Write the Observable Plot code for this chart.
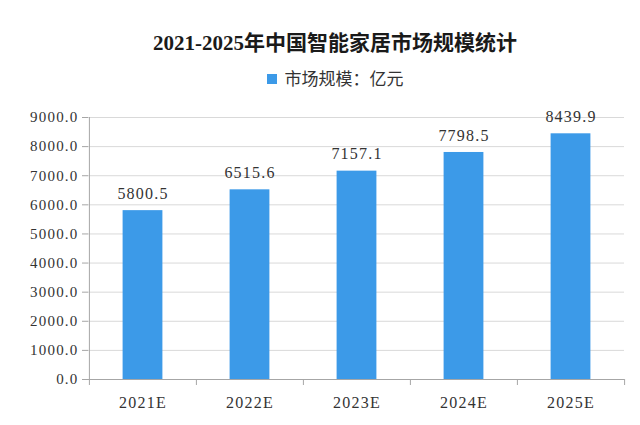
<!DOCTYPE html>
<html><head><meta charset="utf-8">
<script src="https://cdn.jsdelivr.net/npm/d3@7"></script>
<script src="https://cdn.jsdelivr.net/npm/@observablehq/plot@0.6"></script>
<style>
html,body{margin:0;padding:0;background:#fff;}
body{width:640px;height:425px;overflow:hidden;}
#head{height:95px;position:relative;}
#title{position:absolute;left:30px;right:0;top:30px;text-align:center;font-family:"Liberation Serif","Noto Sans CJK SC",serif;font-weight:bold;font-size:21px;line-height:26px;color:#1a1a1a;}
#legend{position:absolute;left:30px;right:0;top:67px;text-align:center;font-family:"Noto Sans CJK SC",sans-serif;font-size:17px;line-height:22px;color:#333;}
#legend .sw{display:inline-block;width:10px;height:10px;background:#3c9ae8;margin-right:8px;vertical-align:1px;}
#chart svg text{letter-spacing:1.2px;}
</style></head>
<body>
<div id="head">
  <div id="title">2021-2025年中国智能家居市场规模统计</div>
  <div id="legend"><span class="sw"></span>市场规模：亿元</div>
</div>
<div id="chart"></div>
<script>
const years = ["2021E", "2022E", "2023E", "2024E", "2025E"];
const values = [5800.5, 6515.6, 7157.1, 7798.5, 8439.9];
const yTicks = [0, 1000, 2000, 3000, 4000, 5000, 6000, 7000, 8000, 9000];

const data = years.map((year, i) => ({year, value: values[i]}));

const W = 640, H = 330, ML = 88, MR = 16, MT = 22, MB = 46;
const bw = (W - ML - MR) / years.length;
const barW = 40;
const inset = (bw - barW) / 2;
const blue = "#3c9ae8";

const chart = Plot.plot({
  width: W, height: H,
  marginLeft: ML, marginRight: MR, marginTop: MT, marginBottom: MB,
  style: {fontFamily: "'Liberation Serif', 'Noto Sans CJK SC', serif", fontSize: "15px", color: "#333", background: "#fff"},
  x: {domain: years, padding: 0, label: null},
  y: {domain: [0, 9000], label: null},
  marks: [
    Plot.gridY(yTicks, {stroke: "#d9d9d9", strokeOpacity: 1}),
    Plot.barY(data, {x: "year", y: "value", fill: blue, insetLeft: inset, insetRight: inset}),
    Plot.ruleY([0], {stroke: "#a6a6a6", insetLeft: -6}),
    Plot.ruleX([years[0]], {dx: -bw / 2, y1: 0, y2: 9000, stroke: "#a6a6a6"}),
    Plot.ruleX(years, {dx: -bw / 2, y1: 0, y2: 0, insetBottom: -6, stroke: "#a6a6a6"}),
    Plot.ruleX([years[years.length - 1]], {dx: bw / 2, y1: 0, y2: 0, insetBottom: -6, stroke: "#a6a6a6"}),
    Plot.axisY(yTicks, {tickFormat: d => d.toFixed(1), tickSize: 6, tickPadding: 4, stroke: "#a6a6a6", fill: "#333", fontSize: 15, label: null}),
    Plot.axisX({tickSize: 0, tickPadding: 17, fill: "#333", fontSize: 16, label: null}),
    Plot.text(data, {x: "year", y: "value", text: d => d.value.toFixed(1), dy: -17, fontSize: 16, fill: "#333"})
  ]
});
document.getElementById("chart").appendChild(chart);
</script>
</body></html>
